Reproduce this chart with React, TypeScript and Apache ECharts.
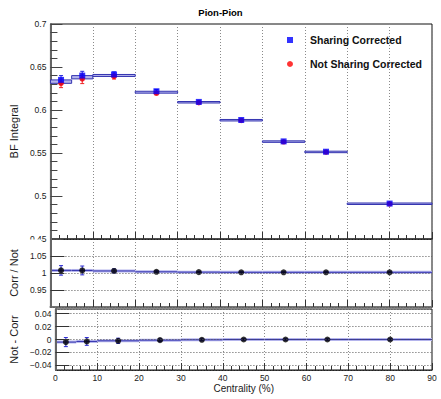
import React, { useEffect, useRef } from 'react';
import * as echarts from 'echarts';

// ---- data ----
const binLow = [0, 5, 10, 20, 30, 40, 50, 60, 70];
const binHigh = [5, 10, 20, 30, 40, 50, 60, 70, 90];
const binCenter = [2.5, 7.5, 15, 25, 35, 45, 55, 65, 80];

const sharingCorrected = [0.635, 0.640, 0.6413, 0.6218, 0.6094, 0.5884, 0.5635, 0.5515, 0.4912];
const sharingCorrectedErr = [0.005, 0.005, 0.003, 0.002, 0.0012, 0.001, 0.001, 0.001, 0.001];
const notSharingCorrected = [0.631, 0.6362, 0.639, 0.6196, 0.6086, 0.5878, 0.563, 0.551, 0.4908];
const notSharingCorrectedErr = [0.005, 0.0055, 0.003, 0.002, 0.0012, 0.001, 0.001, 0.001, 0.001];

const ratioCorrOverNot = [1.0077, 1.0075, 1.006, 1.0035, 1.0025, 1.002, 1.002, 1.002, 1.002];
const ratioErr = [0.014, 0.013, 0.006, 0.003, 0.002, 0.0015, 0.0015, 0.0015, 0.0015];

const diffNotMinusCorr = [-0.004, -0.003, -0.002, -0.001, -0.0005, 0, 0, 0, 0];
const diffErr = [0.007, 0.006, 0.004, 0.002, 0.0015, 0.001, 0.001, 0.001, 0.001];

const xRange = [0, 90];
const topRange = [0.45, 0.7];
const ratioRange = [0.9, 1.1];
const diffRange = [-0.047, 0.047];

const seriesNames = ['Sharing Corrected', 'Not Sharing Corrected'];

// ---- styles ----
const FONT = '"Liberation Sans", Arial, Helvetica, sans-serif';
const LINE = '#3434b0';
const BAND = '#b4b4ec';
const TXT = '#1a1a1a';

const boxRender = (params: any, api: any) => {
  const lo = api.value(0), hi = api.value(1), a = api.value(2), b = api.value(3);
  const pa = api.coord([lo, Math.max(a, b)]);
  const pb = api.coord([hi, Math.min(a, b)]);
  let y1 = pa[1], y2 = pb[1];
  if (y2 - y1 < 1.5) {
    const m = (y1 + y2) / 2;
    y1 = m - 0.75;
    y2 = m + 0.75;
  }
  return {
    type: 'rect',
    shape: { x: pa[0], y: y1, width: pb[0] - pa[0], height: y2 - y1 },
    style: { fill: BAND, stroke: LINE, lineWidth: 1 },
  };
};

const stepRender = (params: any, api: any) => {
  const lo = api.value(0), hi = api.value(1), v = api.value(2);
  const p1 = api.coord([lo, v]);
  const p2 = api.coord([hi, v]);
  return {
    type: 'group',
    children: [
      { type: 'rect', shape: { x: p1[0], y: p1[1] - 1.5, width: p2[0] - p1[0], height: 3 }, style: { fill: BAND } },
      { type: 'line', shape: { x1: p1[0], y1: p1[1], x2: p2[0], y2: p2[1] }, style: { stroke: LINE, lineWidth: 1 } },
    ],
  };
};

const errRender = (color: string) => (params: any, api: any) => {
  const x = api.value(0), v = api.value(1), e = api.value(2);
  const top = api.coord([x, v + e]);
  const bot = api.coord([x, v - e]);
  const c = 2;
  return {
    type: 'group',
    children: [
      { type: 'line', shape: { x1: top[0], y1: top[1], x2: bot[0], y2: bot[1] }, style: { stroke: color, lineWidth: 1 } },
      { type: 'line', shape: { x1: top[0] - c, y1: top[1], x2: top[0] + c, y2: top[1] }, style: { stroke: color, lineWidth: 1 } },
      { type: 'line', shape: { x1: bot[0] - c, y1: bot[1], x2: bot[0] + c, y2: bot[1] }, style: { stroke: color, lineWidth: 1 } },
    ],
  };
};

const makeXAxis = (gridIndex: number, showLabels: boolean, lineWidth: number, lineColor: string) => ({
  type: 'value',
  gridIndex,
  min: xRange[0],
  max: xRange[1],
  interval: 10,
  axisLine: { show: true, onZero: false, lineStyle: { color: lineColor, width: lineWidth } },
  axisTick: { show: true, inside: true, length: 7, lineStyle: { color: '#333' } },
  minorTick: { show: true, splitNumber: 5, length: 4, lineStyle: { color: '#333' } },
  splitLine: { show: true, lineStyle: { color: '#8a8a8a', type: [1, 2], width: 1 } },
  axisLabel: { show: showLabels, fontSize: 8.5, color: TXT, margin: 3, fontFamily: FONT },
  name: showLabels ? 'Centrality (%)' : '',
  nameLocation: 'middle',
  nameGap: 13,
  nameTextStyle: { fontSize: 10, color: TXT, fontFamily: FONT },
});

const minusFmt = (v: number) => String(v).replace('-', '\u2212');

const option: any = {
  animation: false,
  textStyle: { fontFamily: FONT },
  title: {
    text: 'Pion-Pion',
    left: 'center',
    top: 7,
    padding: 0,
    textStyle: { fontSize: 9.5, fontWeight: 'bold', color: '#000', fontFamily: FONT },
  },
  legend: {
    data: seriesNames,
    orient: 'vertical',
    left: 282,
    top: 29,
    itemWidth: 6,
    itemHeight: 6,
    itemGap: 12,
    textStyle: { fontSize: 10.5, fontWeight: 'bold', color: '#111', fontFamily: FONT, padding: [0, 0, 0, 12], lineHeight: 12 },
  },
  grid: [
    { left: 43, top: 24, width: 389, height: 215, show: true, borderColor: '#111', borderWidth: 1, backgroundColor: 'transparent' },
    { left: 43, top: 239, width: 389, height: 68, show: true, borderColor: '#111', borderWidth: 1, backgroundColor: 'transparent' },
    { left: 43, top: 309, width: 389, height: 61, show: true, borderColor: '#111', borderWidth: 1, backgroundColor: 'transparent' },
  ],
  xAxis: [
    makeXAxis(0, false, 1, '#222'),
    makeXAxis(1, false, 2, '#777'),
    makeXAxis(2, true, 1, '#222'),
  ],
  yAxis: [
    {
      type: 'value',
      gridIndex: 0,
      z: 1,
      min: topRange[0],
      max: topRange[1],
      interval: 0.05,
      axisLine: { show: true, onZero: false, lineStyle: { color: '#666', width: 2 } },
      axisTick: { show: true, inside: true, length: 12, lineStyle: { color: '#444' } },
      minorTick: { show: true, splitNumber: 5, length: 7, lineStyle: { color: '#444' } },
      splitLine: { show: false },
      axisLabel: { fontSize: 8.5, color: TXT, margin: 4, fontFamily: FONT, formatter: minusFmt },
      name: 'BF Integral',
      nameLocation: 'middle',
      nameGap: 22.5,
      nameTextStyle: { fontSize: 11, color: TXT, fontFamily: FONT },
    },
    {
      type: 'value',
      gridIndex: 1,
      z: 3,
      min: ratioRange[0],
      max: ratioRange[1],
      interval: 0.05,
      axisLine: { show: true, onZero: false, lineStyle: { color: '#666', width: 2 } },
      axisTick: { show: true, inside: true, length: 14, lineStyle: { color: '#333' } },
      splitLine: { show: true, lineStyle: { color: '#555', type: [1, 2], width: 1 } },
      axisLabel: { fontSize: 8.5, color: TXT, margin: 4, fontFamily: FONT, showMinLabel: false, showMaxLabel: false, formatter: minusFmt },
      name: 'Corr / Not',
      nameLocation: 'middle',
      nameGap: 24.5,
      nameTextStyle: { fontSize: 11, color: TXT, fontFamily: FONT },
    },
    {
      type: 'value',
      gridIndex: 2,
      z: 5,
      min: diffRange[0],
      max: diffRange[1],
      splitNumber: 5,
      axisLine: { show: true, onZero: false, lineStyle: { color: '#666', width: 2 } },
      axisTick: { show: true, inside: true, length: 14, lineStyle: { color: '#333' } },
      splitLine: { show: true, lineStyle: { color: '#555', type: [1, 2], width: 1 } },
      axisLabel: { fontSize: 8.5, color: TXT, margin: 4, fontFamily: FONT, showMinLabel: false, showMaxLabel: false, formatter: minusFmt },
      name: 'Not - Corr',
      nameLocation: 'middle',
      nameGap: 24.5,
      nameTextStyle: { fontSize: 11, color: TXT, fontFamily: FONT },
    },
  ],
  graphic: [
    { type: 'rect', z: 2, silent: true, shape: { x: 0, y: 239.6, width: 41, height: 7 }, style: { fill: '#fff' } },
  ],
  series: [
    {
      type: 'custom',
      xAxisIndex: 0,
      yAxisIndex: 0,
      renderItem: boxRender,
      data: binLow.map((lo, i) => [lo, binHigh[i], sharingCorrected[i], notSharingCorrected[i]]),
      silent: true,
    },
    {
      type: 'custom',
      xAxisIndex: 0,
      yAxisIndex: 0,
      renderItem: errRender('#ee2222'),
      data: binCenter.map((x, i) => [x, notSharingCorrected[i], notSharingCorrectedErr[i]]),
      silent: true,
    },
    {
      name: seriesNames[1],
      type: 'scatter',
      xAxisIndex: 0,
      yAxisIndex: 0,
      symbol: 'circle',
      symbolSize: 5.5,
      itemStyle: { color: '#ff0000' },
      data: binCenter.map((x, i) => [x, notSharingCorrected[i]]),
    },
    {
      type: 'custom',
      xAxisIndex: 0,
      yAxisIndex: 0,
      renderItem: errRender('#2222dd'),
      data: binCenter.map((x, i) => [x, sharingCorrected[i], sharingCorrectedErr[i]]),
      silent: true,
    },
    {
      name: seriesNames[0],
      type: 'scatter',
      xAxisIndex: 0,
      yAxisIndex: 0,
      symbol: 'rect',
      symbolSize: 6,
      itemStyle: { color: '#0000ff' },
      data: binCenter.map((x, i) => [x, sharingCorrected[i]]),
    },
    {
      type: 'custom',
      xAxisIndex: 1,
      yAxisIndex: 1,
      renderItem: stepRender,
      data: binLow.map((lo, i) => [lo, binHigh[i], ratioCorrOverNot[i]]),
      silent: true,
    },
    {
      type: 'custom',
      xAxisIndex: 1,
      yAxisIndex: 1,
      renderItem: errRender('#2a2ad0'),
      data: binCenter.map((x, i) => [x, ratioCorrOverNot[i], ratioErr[i]]),
      silent: true,
    },
    {
      type: 'scatter',
      xAxisIndex: 1,
      yAxisIndex: 1,
      symbol: 'circle',
      symbolSize: 6,
      itemStyle: { color: '#000' },
      data: binCenter.map((x, i) => [x, ratioCorrOverNot[i]]),
    },
    {
      type: 'custom',
      xAxisIndex: 2,
      yAxisIndex: 2,
      renderItem: stepRender,
      data: binLow.map((lo, i) => [lo, binHigh[i], diffNotMinusCorr[i]]),
      silent: true,
    },
    {
      type: 'custom',
      xAxisIndex: 2,
      yAxisIndex: 2,
      renderItem: errRender('#2a2ad0'),
      data: binCenter.map((x, i) => [x, diffNotMinusCorr[i], diffErr[i]]),
      silent: true,
    },
    {
      type: 'scatter',
      xAxisIndex: 2,
      yAxisIndex: 2,
      symbol: 'circle',
      symbolSize: 6,
      itemStyle: { color: '#000' },
      data: binCenter.map((x, i) => [x, diffNotMinusCorr[i]]),
    },
  ],
};

export default function App() {
  const ref = useRef<HTMLDivElement>(null);
  useEffect(() => {
    const chart = echarts.init(ref.current as HTMLDivElement, null, { renderer: 'svg' });
    chart.setOption(option);
    return () => chart.dispose();
  }, []);
  return (
    <div
      ref={ref}
      style={{ position: 'fixed', left: 0, top: 0, width: 441, height: 399, background: '#fff' }}
    />
  );
}
